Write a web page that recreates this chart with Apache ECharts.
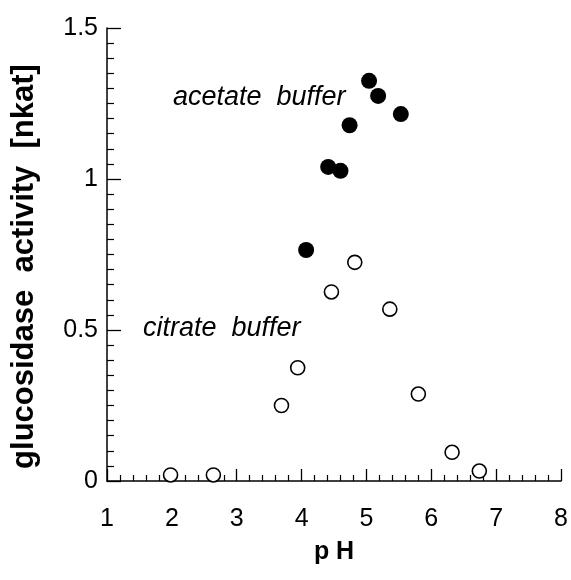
<!DOCTYPE html>
<html>
<head>
<meta charset="utf-8">
<script src="https://cdn.jsdelivr.net/npm/echarts@6/dist/echarts.min.js"></script>
<style>html,body{margin:0;padding:0;background:#fff;}#c{width:571px;height:580px;}</style>
</head>
<body>
<div id="c"></div>
<script>
var acetatePH = [4.07, 4.41, 4.60, 4.74, 5.04, 5.18, 5.53];
var acetateActivity = [0.765, 1.04, 1.027, 1.178, 1.325, 1.275, 1.215];
var citratePH = [1.98, 2.64, 3.69, 3.94, 4.46, 4.82, 5.36, 5.80, 6.32, 6.74];
var citrateActivity = [0.02, 0.02, 0.25, 0.375, 0.626, 0.724, 0.569, 0.288, 0.095, 0.033];
var xTitle = 'p H';
var yTitle = 'glucosidase  activity  [nkat]';
var acetateLabel = 'acetate  buffer';
var citrateLabel = 'citrate  buffer';

function pairs(xs, ys){ return xs.map(function(x,i){ return [x, ys[i]]; }); }

var chart = echarts.init(document.getElementById('c'), null, {renderer:'canvas'});
var font = 'Liberation Sans, Arial, Helvetica, sans-serif';
chart.setOption({
  animation:false,
  backgroundColor:'#fff',
  grid:{left:107, right:8, top:28, bottom:99, containLabel:false},
  xAxis:{
    type:'value', min:1, max:8, interval:1,
    name:xTitle, nameLocation:'middle', nameGap:59,
    nameTextStyle:{fontFamily:font, fontWeight:'bold', fontSize:25, color:'#000'},
    axisLine:{show:true, onZero:false, lineStyle:{color:'#000', width:1.5}},
    axisTick:{show:true, inside:true, length:12, lineStyle:{color:'#000', width:1.3}},
    minorTick:{show:true, splitNumber:5, length:6, lineStyle:{color:'#000', width:1.2}},
    axisLabel:{fontFamily:font, fontSize:25, color:'#000', margin:26},
    splitLine:{show:false}
  },
  yAxis:{
    type:'value', min:0, max:1.5, interval:0.5,
    name:yTitle, nameLocation:'middle', nameGap:67, nameRotate:90,
    nameTextStyle:{fontFamily:font, fontWeight:'bold', fontSize:31, color:'#000', padding:[0, 24, 0, 0]},
    axisLine:{show:true, onZero:false, lineStyle:{color:'#000', width:1.5}},
    axisTick:{show:true, inside:true, length:14, lineStyle:{color:'#000', width:1.3}},
    minorTick:{show:true, splitNumber:10, length:7, lineStyle:{color:'#000', width:1.2}},
    axisLabel:{fontFamily:font, fontSize:25, color:'#000', margin:9},
    splitLine:{show:false}
  },
  series:[
    {type:'scatter', data:pairs(citratePH, citrateActivity), symbol:'circle', symbolSize:14,
     itemStyle:{color:'#fff', borderColor:'#000', borderWidth:1.6, opacity:1}},
    {type:'scatter', data:pairs(acetatePH, acetateActivity), symbol:'circle', symbolSize:16,
     itemStyle:{color:'#000', borderColor:'#000', borderWidth:0, opacity:1}}
  ],
  graphic:[
    {type:'text', left:173, top:84, style:{text:acetateLabel, font:'italic 27px '+font, fill:'#000'}},
    {type:'text', left:143, top:315, style:{text:citrateLabel, font:'italic 27px '+font, fill:'#000'}}
  ]
});
</script>
</body>
</html>
